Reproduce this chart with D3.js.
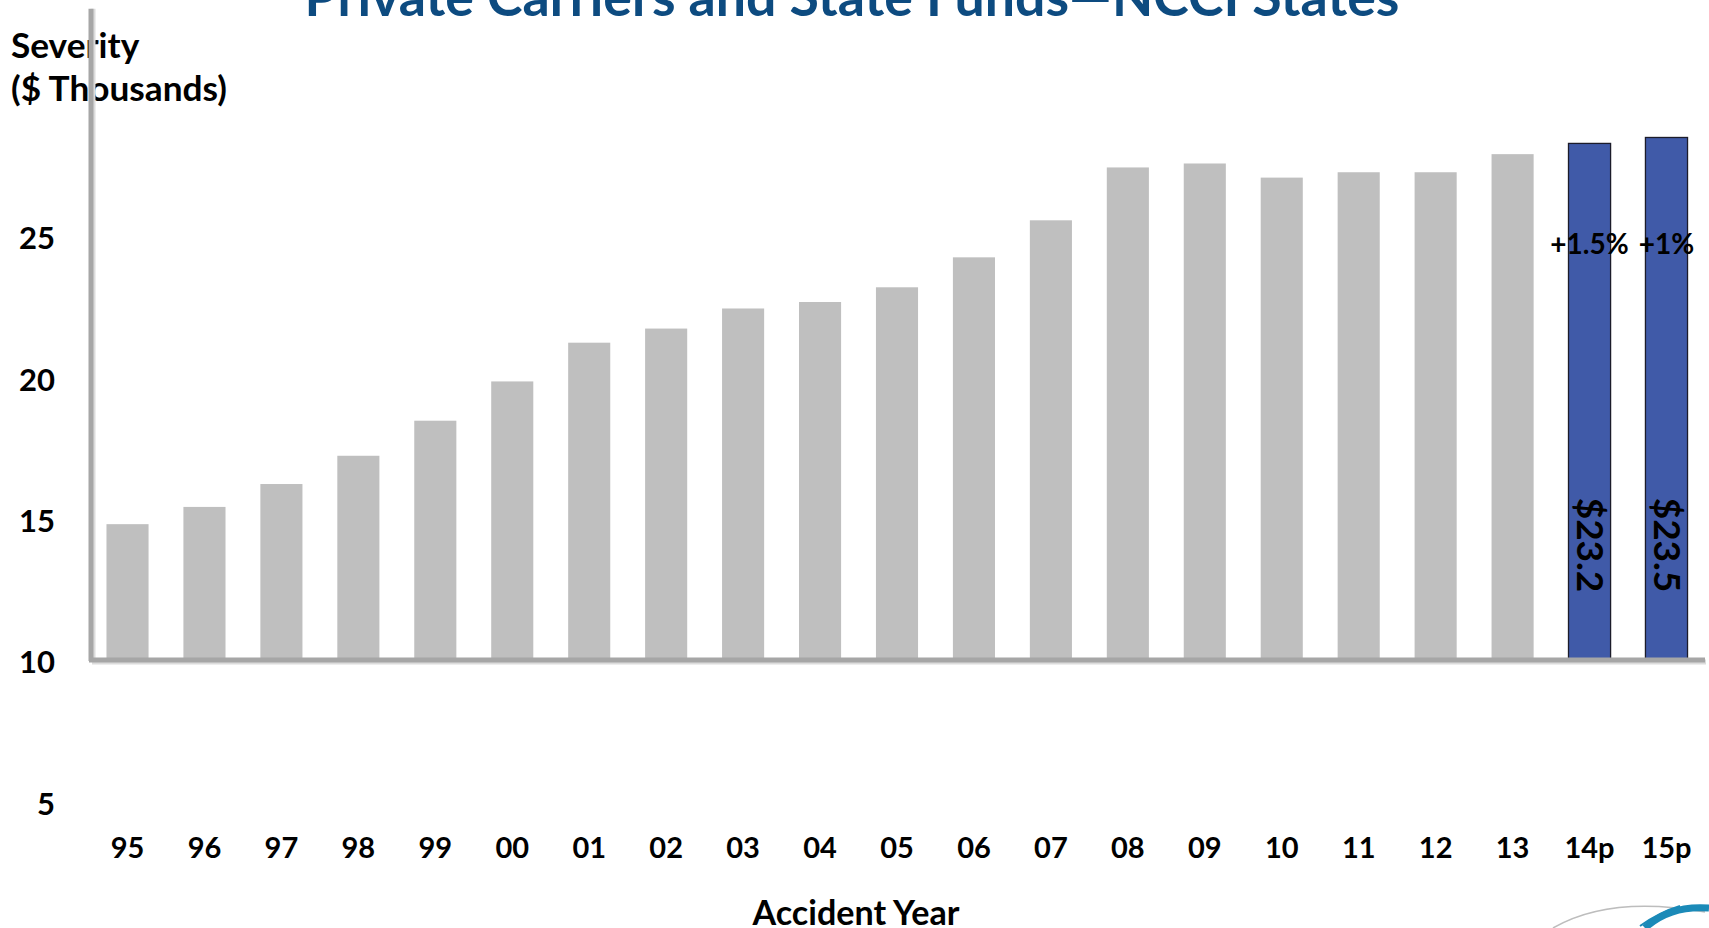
<!DOCTYPE html>
<html><head><meta charset="utf-8">
<script src="https://cdn.jsdelivr.net/npm/d3@7"></script>
<style>body{margin:0;background:#fff;overflow:hidden}svg{display:block}text{font-family:Lato,"Open Sans",sans-serif;font-weight:700}</style>
</head><body>
<script>
const categories = ["95","96","97","98","99","00","01","02","03","04","05","06","07","08","09","10","11","12","13","14p","15p"];
const severity = [14.77,15.38,16.19,17.19,18.43,19.82,21.19,21.69,22.40,22.63,23.15,24.21,25.52,27.39,27.53,27.03,27.22,27.22,27.86,28.24,28.45];
const projected = [false,false,false,false,false,false,false,false,false,false,false,false,false,false,false,false,false,false,false,true,true];
const projValueLabels = {"14p":"$23.2","15p":"$23.5"};
const projPctLabels = {"14p":"+1.5%","15p":"+1%"};
const yTicks = [5,10,15,20,25];
const title = "Private Carriers and State Funds\u2014NCCI States";

const W = 1709, H = 928;
const svg = d3.select("body").append("svg").attr("width", W).attr("height", H);

const x = d3.scaleBand().domain(categories).range([88, 1706]).paddingInner(0.453).paddingOuter(0.24);
const y = d3.scaleLinear().domain([10, 25]).range([659, 235]);

function fit(sel, target){ const w = sel.node().getComputedTextLength(); const fs = parseFloat(sel.attr("font-size")); sel.attr("font-size", fs*target/w); }

// title (cut off at top)
const t = svg.append("text").attr("x", 852).attr("y", 16).attr("text-anchor","middle")
  .attr("font-size", 46).attr("fill", "#0D4B80").text(title);
fit(t, 1095);

// y axis title
const s1 = svg.append("text").attr("x", 11).attr("y", 46).attr("dy","0.35em").attr("font-size",30).attr("fill","#000").text("Severity");
const s2 = svg.append("text").attr("x", 11).attr("y", 89).attr("dy","0.35em").attr("font-size",30).attr("fill","#000").text("($ Thousands)");
fit(s2, 216); s1.attr("font-size", s2.attr("font-size"));

// bars
svg.append("g").selectAll("rect").data(categories).join("rect")
  .attr("x", d => x(d)).attr("width", x.bandwidth())
  .attr("y", (d,i) => y(severity[i])).attr("height", (d,i) => y(10) - y(severity[i]))
  .attr("fill", (d,i) => projected[i] ? "#405AA8" : "#BFBFBF")
  .attr("stroke", (d,i) => projected[i] ? "#1c1c2a" : "none")
  .attr("stroke-width", 1.3);

// axis lines (with faint shadow)
const axisColor = "#A6A6A6";
svg.append("line").attr("x1", 93).attr("x2", 93).attr("y1", y(33)).attr("y2", y(10)+3).attr("stroke","#dcdcdc").attr("stroke-width",5);
svg.append("line").attr("x1", 91).attr("x2", 91).attr("y1", y(33)).attr("y2", y(10)+2).attr("stroke",axisColor).attr("stroke-width",5);
svg.append("line").attr("x1", 92).attr("x2", 1706).attr("y1", y(10)+3).attr("y2", y(10)+3).attr("stroke","#dcdcdc").attr("stroke-width",5);
svg.append("line").attr("x1", 89).attr("x2", 1705).attr("y1", y(10)+1).attr("y2", y(10)+1).attr("stroke",axisColor).attr("stroke-width",5);

// y tick labels
const ya = svg.append("g").attr("transform","translate(55,0)")
  .call(d3.axisLeft(y).tickValues(yTicks).tickSize(0).tickPadding(0).tickFormat(d3.format("d")));
ya.select(".domain").remove();
ya.selectAll("text").attr("font-size",31).attr("fill","#000").attr("font-family","Lato").attr("font-weight",700).attr("dy","0.35em").attr("transform","translate(0,3)");

// x tick labels
const xa = svg.append("g").attr("transform","translate(0,848)")
  .call(d3.axisBottom(x).tickSize(0).tickPadding(0));
xa.select(".domain").remove();
xa.selectAll("text").attr("y",0).attr("dy","0.35em").attr("font-size",29).attr("fill","#000").attr("font-family","Lato").attr("font-weight",700);

// x axis title
const ax = svg.append("text").attr("x", 856).attr("y", 913).attr("dy","0.35em").attr("text-anchor","middle").attr("font-size",30).attr("fill","#000").text("Accident Year");
fit(ax, 207);

// projection labels
categories.forEach((c,i) => {
  if (!projected[i]) return;
  const cx = x(c) + x.bandwidth()/2;
  svg.append("text").attr("x", cx).attr("y", 244).attr("dy","0.35em").attr("text-anchor","middle")
    .attr("font-size", 28).attr("fill","#000").text(projPctLabels[c]);
  svg.append("text").attr("transform", `translate(${cx},${y(10) - 114}) rotate(90)`)
    .attr("text-anchor","middle").attr("dy","0.35em").attr("font-size", 37).attr("fill","#000").text(projValueLabels[c]);
});

// partial logo, bottom right
svg.append("path").attr("d","M1553,928 Q1610,895 1705,912").attr("fill","none").attr("stroke","#bdbdbd").attr("stroke-width",1.5);
svg.append("path").attr("d","M1645,928 Q1670,905 1709,908").attr("fill","none").attr("stroke","#1B8AB8").attr("stroke-width",7);
svg.append("path").attr("d","M1640,926 Q1660,912 1680,906").attr("fill","none").attr("stroke","#1B8AB8").attr("stroke-width",2);
</script>
</body></html>
